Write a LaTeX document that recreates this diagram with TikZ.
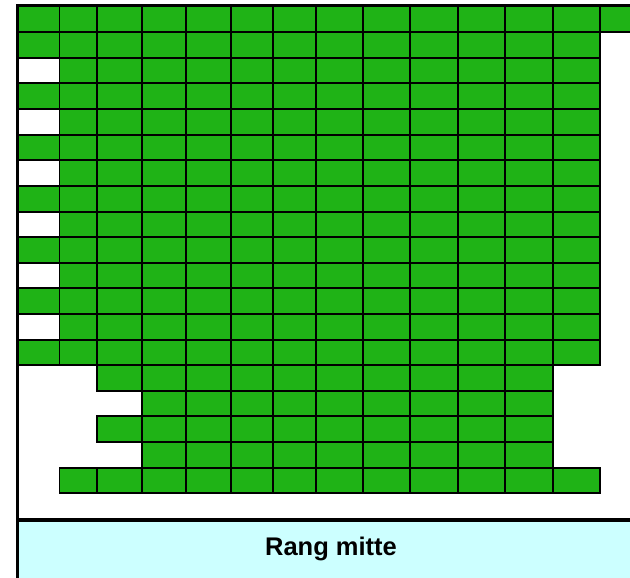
\documentclass[tikz,border=0pt]{standalone}
\usepackage{fontspec}
\setmainfont{Liberation Sans}
\usetikzlibrary{positioning}

\definecolor{seatgreen}{RGB}{31,179,22}
\definecolor{panelcyan}{RGB}{204,255,255}

% Spaltengrenzen und Zeilengrenzen (in px)
\def\colx{{18,59.5,97,142,186,231,273,316,363,410,458,505,553,600,647}}
\def\rowy{{6,31.7,57.7,82.7,108.7,134.7,160,185.7,211.7,236.7,262.7,287.7,313.7,339.7,364.7,390.7,415.7,441.7,467.7,492.7}}

\begin{document}
\begin{tikzpicture}[
        x=1pt, y=-1pt,
        seat/.style={
            draw=black,
            fill=seatgreen,
            line width=1.8pt
        },
        frame/.style={draw=black, line width=3.3pt},
        panel/.style={fill=panelcyan},
        titletext/.style={font=\fontsize{25.5}{30}\selectfont\bfseries}
    ]
        \useasboundingbox (0,0) rectangle (630,578);
        \clip (0,0) rectangle (630,578);

        % -- Sitzplaetze (Zeile/erste Spalte/letzte Spalte) --
        \foreach \r/\a/\b in {0/0/13, 1/0/12, 2/1/12, 3/0/12, 4/1/12, 5/0/12,
                6/1/12, 7/0/12, 8/1/12, 9/0/12, 10/1/12, 11/0/12, 12/1/12,
                13/0/12, 14/2/11, 15/3/11, 16/2/11, 17/3/11, 18/1/12} {
            \foreach \c in {\a,...,\b} {
                \pgfmathsetmacro\xl{\colx[\c]}
                \pgfmathsetmacro\xr{\colx[\c+1]}
                \pgfmathsetmacro\yt{\rowy[\r]}
                \pgfmathsetmacro\yb{\rowy[\r+1]}
                \draw[seat] (\xl,\yt) rectangle (\xr,\yb);
            }
        }

        % -- Rang-Beschriftung --
        \fill[panel] (19,520) rectangle (640,590);
        \node[titletext] (rang) at (331,549) {Rang mitte};

        % -- Rahmen --
        \coordinate (topleft) at (17.7,5.7);
        \coordinate (topright) at (640,5.7);
        \coordinate (bottomleft) at (17.7,590);
        \coordinate (panelleft) at (16,520);
        \coordinate (panelright) at (640,520);
        \draw[frame] (topright) -- (topleft) -- (bottomleft);
        \draw[frame] (panelleft) -- (panelright);

    \end{tikzpicture}
\end{document}
